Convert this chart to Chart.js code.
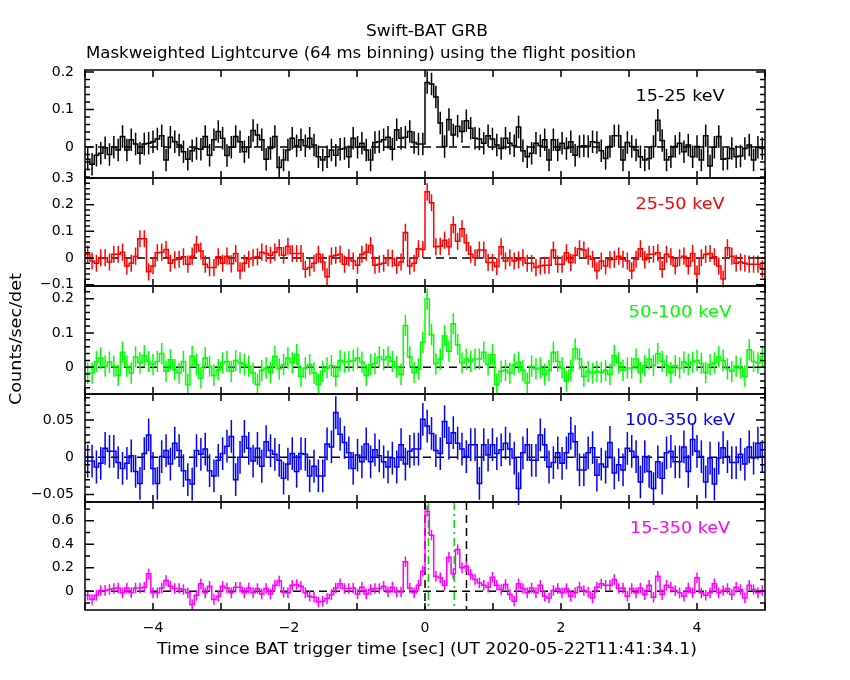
<!DOCTYPE html>
<html>
<head>
<meta charset="utf-8">
<title>Swift-BAT GRB lightcurve</title>
<script src="https://cdn.jsdelivr.net/npm/chart.js@4.4.1/dist/chart.umd.min.js"></script>
<style>
  html, body { margin: 0; padding: 0; background: #fff; }
  #wrap { width: 850px; height: 680px; position: relative; }
</style>
</head>
<body>
<div id="wrap"><canvas id="lc" width="850" height="680"></canvas></div>
<script>
// 64 ms bins, from -4.992 s to +4.992 s (156 bins)
const binWidth = 0.064;
const firstEdge = -4.992;

// Count rates (counts/sec/det) per energy band
const rate15_25 = [
  -0.033, -0.046, -0.022, -0.017, -0.002, -0.020, -0.001, -0.008, 0.028, -0.008,
  0.019, 0.008, -0.017, 0.008, 0.010, 0.014, 0.021, 0.030, -0.035, 0.026,
  0.014, 0.005, -0.013, -0.033, -0.010, -0.004, -0.006, 0.028, -0.022, 0.019,
  0.041, 0.023, -0.023, -0.001, 0.028, 0.014, -0.013, -0.001, 0.044, 0.032,
  0.019, -0.033, -0.004, 0.028, -0.055, -0.035, -0.008, 0.023, 0.003, 0.019,
  0.003, 0.023, 0.005, -0.026, -0.035, -0.026, -0.008, -0.022, -0.006, -0.004,
  -0.026, 0.023, -0.001, 0.010, -0.008, -0.035, 0.012, 0.014, 0.019, 0.026,
  -0.006, 0.046, 0.023, 0.026, 0.041, 0.012, 0.008, 0.008,
  // t >= 0
  0.172, 0.168, 0.133, 0.064, 0.001, 0.073, 0.032, 0.055, 0.041, 0.070,
  0.050, 0.023, 0.021, 0.010, 0.030, 0.021, 0.005, -0.004, 0.023, 0.010,
  0.003, 0.053, -0.010, -0.026, -0.017, 0.010, 0.003, 0.019, -0.035, 0.019,
  -0.008, 0.010, -0.004, 0.014, -0.022, 0.001, 0.003, 0.001, 0.014, 0.012,
  -0.010, -0.031, 0.001, 0.030, 0.030, -0.035, 0.012, 0.001, -0.008, -0.026,
  -0.035, -0.031, 0.001, 0.071, 0.017, -0.035, -0.026, 0.001, 0.010, -0.013,
  0.005, -0.026, 0.001, -0.035, 0.030, -0.051, -0.001, 0.028, -0.033, -0.031,
  -0.004, -0.026, -0.024, -0.004, 0.005, -0.035, -0.001, -0.004
];

const rate25_50 = [
  0.014, -0.011, -0.020, 0.001, 0.001, -0.015, 0.014, 0.014, 0.022, -0.030,
  -0.020, 0.007, 0.072, 0.072, -0.052, -0.030, 0.020, 0.022, 0.032, -0.020,
  -0.007, -0.005, 0.005, -0.023, 0.007, 0.051, 0.026, -0.023, -0.036, -0.036,
  0.005, -0.020, 0.007, -0.022, 0.017, -0.048, -0.020, -0.005, 0.001, 0.005,
  0.022, 0.017, 0.010, 0.022, 0.038, 0.010, 0.044, 0.017, 0.017, 0.017,
  -0.042, -0.036, -0.020, 0.014, -0.015, -0.070, 0.007, 0.010, 0.014, -0.023,
  0.001, -0.011, -0.027, 0.014, 0.022, 0.047, -0.027, -0.023, -0.020, 0.001,
  -0.002, -0.027, -0.015, 0.096, -0.030, -0.020, 0.035, 0.032,
  // t >= 0
  0.248, 0.207, 0.042, 0.044, 0.067, 0.042, 0.125, 0.063, 0.110, 0.057,
  0.014, 0.001, 0.030, 0.030, -0.017, -0.017, -0.032, 0.042, -0.011, 0.001,
  -0.011, -0.007, 0.001, -0.020, -0.020, -0.036, -0.030, -0.027, -0.027, 0.030,
  -0.023, -0.023, 0.020, -0.017, 0.010, 0.035, 0.030, 0.007, -0.005, -0.048,
  -0.011, -0.030, -0.007, -0.005, 0.007, -0.005, -0.011, -0.048, -0.005, 0.035,
  -0.007, 0.014, 0.014, 0.020, -0.042, 0.014, 0.005, -0.030, 0.001, 0.007,
  -0.030, 0.017, -0.060, 0.001, 0.014, 0.017, 0.005, -0.030, -0.079, 0.038,
  0.007, -0.020, -0.015, -0.020, -0.023, -0.023, -0.023, -0.040
];

const rate50_100 = [
  -0.017, -0.017, 0.017, 0.027, 0.003, 0.015, 0.003, -0.024, 0.044, 0.003,
  -0.017, 0.030, 0.013, 0.034, 0.017, 0.008, 0.017, 0.040, -0.012, 0.022,
  -0.007, -0.017, 0.017, -0.050, 0.032, 0.008, -0.031, 0.027, 0.003, -0.024,
  -0.007, 0.013, 0.017, -0.012, 0.020, 0.013, 0.008, 0.003, -0.017, -0.050,
  -0.009, -0.002, -0.015, 0.032, -0.005, 0.008, 0.027, 0.013, 0.037, -0.026,
  -0.002, 0.008, -0.017, -0.050, -0.012, -0.002, 0.005, -0.026, 0.020, 0.015,
  0.017, 0.020, 0.027, 0.015, -0.024, 0.008, 0.011, 0.030, 0.022, 0.030,
  0.017, 0.001, -0.021, 0.122, 0.030, -0.015, -0.005, 0.073,
  // t >= 0
  0.199, 0.095, 0.010, 0.024, 0.092, 0.047, 0.127, 0.066, 0.013, 0.024,
  0.017, 0.024, 0.024, 0.044, 0.008, 0.037, -0.050, -0.012, -0.009, -0.017,
  0.008, 0.015, -0.009, -0.046, 0.003, -0.005, -0.002, -0.021, -0.009, 0.044,
  0.017, -0.002, -0.041, -0.009, 0.053, 0.024, -0.026, -0.012, -0.017, -0.012,
  -0.015, -0.009, -0.021, 0.034, 0.013, -0.009, -0.002, -0.002, 0.024, -0.015,
  0.005, 0.024, 0.005, 0.040, 0.017, 0.005, -0.015, 0.005, -0.002, 0.015,
  0.008, 0.015, 0.020, 0.011, -0.015, 0.008, 0.013, 0.030, 0.020, -0.005,
  -0.012, 0.003, -0.002, -0.026, 0.051, 0.017, 0.013, 0.032
];

const rate100_350 = [
  -0.005, -0.005, -0.013, -0.008, 0.012, 0.008, 0.008, -0.007, -0.015, -0.008,
  0.002, -0.019, -0.035, 0.005, 0.030, -0.015, -0.035, 0.001, 0.009, -0.009,
  0.019, 0.009, -0.018, -0.030, -0.036, 0.009, 0.004, 0.011, -0.018, -0.025,
  -0.004, 0.005, 0.015, 0.028, -0.030, 0.000, 0.028, 0.012, -0.005, 0.012,
  -0.012, 0.021, 0.009, 0.004, -0.004, -0.028, -0.009, 0.005, -0.019, 0.005,
  0.004, -0.025, -0.012, -0.025, -0.025, 0.018, 0.014, 0.060, 0.031, 0.020,
  0.006, -0.015, 0.003, -0.006, 0.018, -0.006, 0.010, 0.002, -0.006, -0.013,
  -0.001, -0.013, 0.017, -0.009, 0.008, 0.011, 0.011, 0.051,
  // t >= 0
  0.042, 0.032, 0.009, 0.005, 0.048, 0.019, 0.033, 0.019, 0.011, 0.001,
  0.017, 0.017, -0.035, 0.017, 0.003, 0.017, 0.005, 0.010, 0.019, 0.011,
  -0.001, -0.042, 0.006, 0.017, -0.004, -0.004, 0.030, 0.017, -0.013, -0.007,
  0.006, -0.008, 0.006, 0.032, 0.021, -0.017, -0.017, 0.006, 0.013, -0.024,
  -0.009, -0.013, 0.020, -0.021, -0.010, -0.017, 0.012, 0.008, 0.001, -0.033,
  0.001, -0.019, -0.042, -0.006, -0.028, 0.006, 0.008, -0.006, -0.006, 0.014,
  -0.019, 0.024, 0.008, 0.001, -0.033, -0.001, -0.036, -0.001, 0.013, 0.001,
  -0.007, -0.007, 0.004, -0.009, 0.014, -0.001, 0.019, 0.001
];

const rate15_350 = [
  -0.034, -0.071, -0.034, 0.006, 0.006, 0.014, 0.023, 0.028, -0.014, 0.028,
  -0.014, 0.028, 0.028, 0.034, 0.148, -0.014, -0.014, 0.028, 0.091, 0.043,
  0.023, 0.023, 0.014, -0.014, -0.114, -0.034, 0.063, -0.014, 0.043, -0.071,
  -0.043, 0.043, 0.028, -0.014, 0.034, 0.034, -0.014, 0.028, -0.014, 0.023,
  -0.023, 0.023, -0.023, 0.051, 0.086, -0.009, -0.014, 0.051, 0.057, 0.043,
  -0.014, -0.043, -0.051, -0.091, -0.086, -0.063, -0.029, 0.028, 0.063, 0.023,
  0.023, 0.028, -0.023, 0.034, -0.023, 0.014, 0.023, 0.023, 0.043, -0.006,
  0.034, -0.006, -0.006, 0.251, 0.028, -0.014, 0.051, 0.171,
  // t >= 0
  0.682, 0.477, 0.128, 0.114, 0.051, 0.290, 0.148, 0.355, 0.199, 0.213,
  0.142, 0.100, 0.071, 0.051, 0.034, 0.120, 0.051, 0.014, 0.057, -0.029,
  -0.086, 0.063, 0.023, -0.014, 0.028, -0.014, 0.051, -0.043, -0.057, 0.006,
  0.023, -0.014, 0.023, -0.043, -0.014, 0.034, 0.006, -0.006, -0.057, 0.034,
  0.063, 0.051, 0.051, 0.100, 0.023, 0.028, -0.043, 0.023, -0.014, 0.028,
  -0.029, 0.051, -0.051, 0.128, -0.029, 0.051, 0.034, 0.006, -0.014, -0.043,
  0.028, -0.014, 0.114, -0.014, -0.034, -0.014, 0.063, -0.014, 0.006, 0.023,
  -0.029, 0.034, 0.014, -0.057, 0.051, 0.014, -0.014, 0.006
];

// typical 1-sigma error per band
const errSize = [0.030, 0.032, 0.031, 0.022, 0.045];

// tick labels
const xTickValues = [-4, -2, 0, 2, 4];
const yTicks15_25 = [0, 0.1, 0.2];
const yTicks25_50 = [-0.1, 0, 0.1, 0.2, 0.3];
const yTicks50_100 = [0, 0.1, 0.2];
const yTicks100_350 = [-0.05, 0, 0.05];
const yTicks15_350 = [0, 0.2, 0.4, 0.6];

// T90 start/stop (black dashed) and T50 start/stop (green dash-dot)
const t90Lines = [0, 0.61];
const t50Lines = [0.05, 0.43];

const bandNames = ['15-25 keV', '25-50 keV', '50-100 keV', '100-350 keV', '15-350 keV'];

const FONT = "'DejaVu Sans', sans-serif";

const panels = [
  { id: 'y1', data: rate15_25, ticks: yTicks15_25, min: -0.083, max: 0.205, minor: 0.02, major: 0.1, color: '#000000' },
  { id: 'y2', data: rate25_50, ticks: yTicks25_50, min: -0.105, max: 0.3, minor: 0.02, major: 0.1, color: '#ff0000' },
  { id: 'y3', data: rate50_100, ticks: yTicks50_100, min: -0.078, max: 0.237, minor: 0.02, major: 0.1, color: '#00ff00' },
  { id: 'y4', data: rate100_350, ticks: yTicks100_350, min: -0.060, max: 0.085, minor: 0.01, major: 0.05, color: '#0000ff' },
  { id: 'y5', data: rate15_350, ticks: yTicks15_350, min: -0.16, max: 0.76, minor: 0.1, major: 0.2, color: '#ff00ff' }
];

function fmtNum(v) {
  return v < 0 ? '\u2212' + Math.abs(v) : String(v);
}

// step line: one point per left bin edge plus the closing right edge
function stepPoints(values) {
  const pts = values.map((v, k) => ({ x: firstEdge + k * binWidth, y: v }));
  pts.push({ x: firstEdge + values.length * binWidth, y: values[values.length - 1] });
  return pts;
}

// draw text at a fixed height, stretched sideways to the wanted width
function stretchText(ctx, text, x, y, width, size, align) {
  ctx.font = size + 'px ' + FONT;
  const sx = width / ctx.measureText(text).width;
  ctx.save();
  ctx.translate(x, y);
  ctx.scale(sx, 1);
  ctx.textAlign = align;
  ctx.fillText(text, 0, 0);
  ctx.restore();
}

const datasets = panels.map((p, i) => ({
  label: bandNames[i],
  data: stepPoints(p.data),
  yAxisID: p.id,
  borderColor: p.color,
  borderWidth: 1.5,
  pointRadius: 0,
  stepped: true,
  fill: false
}));

const scales = {
  x: {
    type: 'linear',
    min: -5,
    max: 5,
    grid: { display: false, drawTicks: false },
    border: { display: false },
    afterBuildTicks: s => { s.ticks = xTickValues.map(v => ({ value: v })); },
    afterFit: s => { s.height = 70; },
    ticks: {
      autoSkip: false,
      maxRotation: 0,
      padding: 10,
      color: '#000',
      font: { family: FONT, size: 14 },
      callback: v => fmtNum(v)
    }
  }
};

// stacked y axes, listed bottom panel first
panels.slice().reverse().forEach(p => {
  scales[p.id] = {
    type: 'linear',
    position: 'left',
    stack: 'bands',
    stackWeight: 1,
    min: p.min,
    max: p.max,
    grid: { display: false, drawTicks: false },
    border: { display: false },
    afterBuildTicks: s => { s.ticks = p.ticks.map(v => ({ value: v })); },
    afterFit: s => { s.width = 85; },
    ticks: {
      autoSkip: false,
      padding: 11,
      color: '#000',
      font: { family: FONT, size: 14 },
      callback: v => fmtNum(v)
    }
  };
});

const panelPlugin = {
  id: 'panelDecor',
  beforeDatasetsDraw(chart) {
    const ctx = chart.ctx;
    const area = chart.chartArea;
    const xs = chart.scales.x;
    ctx.save();
    // dashed zero line in each panel
    ctx.strokeStyle = '#000';
    ctx.lineWidth = 1.5;
    ctx.setLineDash([8, 5]);
    panels.forEach(p => {
      const y0 = chart.scales[p.id].getPixelForValue(0);
      ctx.beginPath();
      ctx.moveTo(area.left, y0);
      ctx.lineTo(area.right, y0);
      ctx.stroke();
    });
    // T90 / T50 markers in the bottom panel
    const s5 = chart.scales.y5;
    t90Lines.forEach(t => {
      const x = xs.getPixelForValue(t);
      ctx.beginPath();
      ctx.moveTo(x, s5.top);
      ctx.lineTo(x, s5.bottom);
      ctx.stroke();
    });
    ctx.strokeStyle = '#00e000';
    ctx.setLineDash([8, 4, 2, 4]);
    t50Lines.forEach(t => {
      const x = xs.getPixelForValue(t);
      ctx.beginPath();
      ctx.moveTo(x, s5.top);
      ctx.lineTo(x, s5.bottom);
      ctx.stroke();
    });
    ctx.restore();
  },
  afterDatasetsDraw(chart) {
    const ctx = chart.ctx;
    const area = chart.chartArea;
    const xs = chart.scales.x;
    ctx.save();

    // error bars at bin centres
    panels.forEach((p, i) => {
      const s = chart.scales[p.id];
      ctx.strokeStyle = p.color;
      ctx.lineWidth = 1.5;
      ctx.beginPath();
      p.data.forEach((v, k) => {
        const x = xs.getPixelForValue(firstEdge + (k + 0.5) * binWidth);
        ctx.moveTo(x, s.getPixelForValue(v - errSize[i]));
        ctx.lineTo(x, s.getPixelForValue(v + errSize[i]));
      });
      ctx.stroke();
    });

    // frames and inward ticks
    ctx.strokeStyle = '#000';
    ctx.lineWidth = 1.5;
    panels.forEach(p => {
      const s = chart.scales[p.id];
      ctx.strokeRect(area.left, s.top, area.right - area.left, s.bottom - s.top);
      ctx.beginPath();
      for (let t = Math.ceil(xs.min); t <= xs.max; t++) {
        const x = xs.getPixelForValue(t);
        ctx.moveTo(x, s.top);
        ctx.lineTo(x, s.top + 7);
        ctx.moveTo(x, s.bottom);
        ctx.lineTo(x, s.bottom - 7);
      }
      const n0 = Math.ceil(p.min / p.minor - 1e-6);
      const n1 = Math.floor(p.max / p.minor + 1e-6);
      for (let n = n0; n <= n1; n++) {
        const v = n * p.minor;
        const r = v / p.major;
        const len = Math.abs(r - Math.round(r)) < 1e-6 ? 9 : 5;
        const y = s.getPixelForValue(v);
        ctx.moveTo(area.left, y);
        ctx.lineTo(area.left + len, y);
        ctx.moveTo(area.right, y);
        ctx.lineTo(area.right - len, y);
      }
      ctx.stroke();
    });

    // band labels
    ctx.textBaseline = 'middle';
    const labelWidths = [89, 89, 103, 110, 100];
    panels.forEach((p, i) => {
      const s = chart.scales[p.id];
      ctx.fillStyle = p.color;
      stretchText(ctx, bandNames[i], 680, s.top + 27, labelWidths[i], 15, 'center');
    });

    // titles and axis labels
    ctx.fillStyle = '#000';
    stretchText(ctx, 'Swift-BAT GRB', 427, 32, 122, 15, 'center');
    stretchText(ctx, 'Maskweighted Lightcurve (64 ms binning) using the flight position', 86, 54, 550, 15, 'left');
    stretchText(ctx, 'Time since BAT trigger time [sec] (UT 2020-05-22T11:41:34.1)', 427, 650, 540, 15, 'center');
    ctx.translate(17, 339);
    ctx.rotate(-Math.PI / 2);
    stretchText(ctx, 'Counts/sec/det', 0, 0, 132, 15, 'center');
    ctx.restore();
  }
};

new Chart(document.getElementById('lc'), {
  type: 'line',
  data: { datasets },
  options: {
    responsive: false,
    animation: false,
    devicePixelRatio: 1,
    layout: { padding: { top: 70, right: 85, left: 0, bottom: 0 } },
    plugins: { legend: { display: false }, tooltip: { enabled: false }, title: { display: false } },
    scales
  },
  plugins: [panelPlugin]
});
</script>
</body>
</html>
